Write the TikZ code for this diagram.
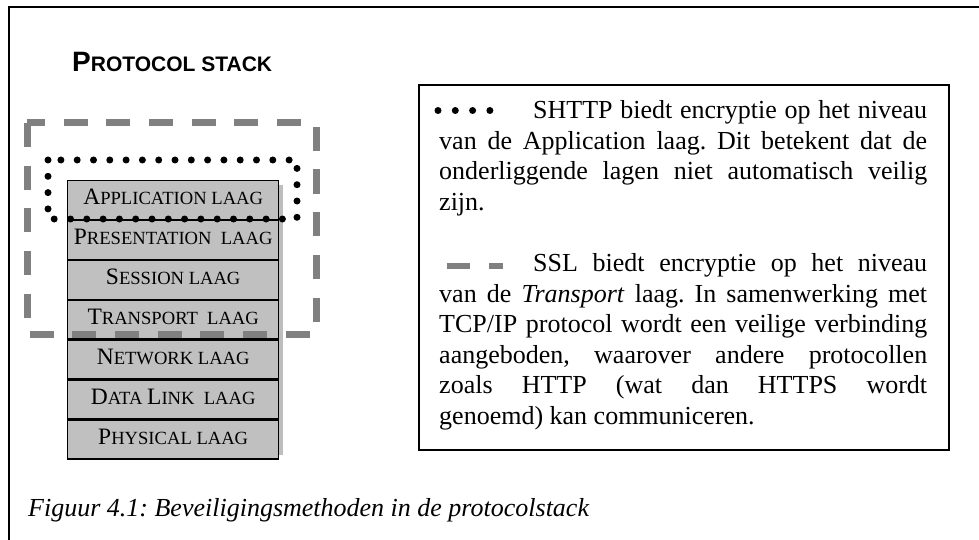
\documentclass[tikz,border=0pt]{standalone}
\usepackage{fontspec}
\setmainfont{Liberation Serif}
\newfontfamily\headfont{Liberation Sans}
\frenchspacing
\definecolor{stackgray}{HTML}{C0C0C0}
\definecolor{shadowgray}{HTML}{BDBDBD}
\definecolor{dashgray}{HTML}{808080}
% fake small capitals: first letter large, the rest in smaller capitals
\newcommand\capbig[1]{{\fontsize{23.5}{26}\selectfont #1}}
\newcommand\capsmall[1]{{\fontsize{18.6}{21}\selectfont #1}}
\begin{document}
\begin{tikzpicture}[x=1pt,y=-1pt,
  layerbox/.style={draw=black, line width=1.4pt, fill=stackgray,
    minimum width=211pt, minimum height=38.571pt, inner sep=0pt,
    text height=16pt, text depth=7pt, anchor=north west},
  dotline/.style={line width=7pt, line cap=round, dash pattern=on 0pt off 16.3pt},
  dashline/.style={line width=7pt, draw=dashgray, dash pattern=on 24pt off 18.7pt},
  smalldots/.style={line width=7pt, line cap=round, dash pattern=on 0pt off 17.3pt},
  smalldash/.style={line width=6pt, draw=dashgray, dash pattern=on 23pt off 19pt},
  bodyline/.style={anchor=base west, inner sep=0pt, font=\fontsize{26}{30}\selectfont},
]
\useasboundingbox (0,0) rectangle (979,540);
\clip (0,0) rectangle (979,540);

% outer frame
\draw[line width=2pt] (9,7) rectangle (1000,560);

% heading
\node[anchor=base west, inner sep=0pt, font=\headfont\bfseries] (title) at (72,72)
  {{\fontsize{28}{30}\selectfont P}{\fontsize{21}{24}\selectfont ROTOCOL STACK}};

% protocol stack with its shadow
\fill[shadowgray] (72,185) rectangle (283,455);
\node[layerbox] (app) at (67,180) {\capbig{A}\capsmall{PPLICATION LAAG}};
\node[layerbox] (pres) at (app.south west) {\capbig{P}\capsmall{RESENTATION\ \ LAAG}};
\node[layerbox] (sess) at (pres.south west) {\capbig{S}\capsmall{ESSION LAAG}};
\node[layerbox] (trans) at (sess.south west) {\capbig{T}\capsmall{RANSPORT\ \ LAAG}};
\node[layerbox] (net) at (trans.south west) {\capbig{N}\capsmall{ETWORK LAAG}};
\node[layerbox] (dlink) at (net.south west) {\capbig{D}\capsmall{ATA }\capbig{L}\capsmall{INK\ \ LAAG}};
\node[layerbox] (phys) at (dlink.south west) {\capbig{P}\capsmall{HYSICAL LAAG}};

% SSL range (dashed) and SHTTP range (dotted)
\draw[dashline] (27,123) rectangle (316,334);
\draw[dotline] (48,160) rectangle (297,219);

% explanation box
\node[draw=black, line width=1.6pt, minimum width=530pt, minimum height=365pt,
  inner sep=0pt, anchor=north west] (textbox) at (418,84) {};

\coordinate (dotsA) at (438,110.5);
\coordinate (dotsB) at (490,110.5);
\draw[smalldots] (dotsA) -- (dotsB);
\node[bodyline] (l1) at (533,118.5) {\makebox[394pt][s]{SHTTP biedt encryptie op het niveau}};
\node[bodyline] (l2) at (439,149.1) {\makebox[488pt][s]{van de Application laag. Dit betekent dat de}};
\node[bodyline] (l3) at (439,179.7) {\makebox[488pt][s]{onderliggende lagen niet automatisch veilig}};
\node[bodyline] (l4) at (439,210.3) {zijn.};

\coordinate (dashA) at (447,265.5);
\coordinate (dashB) at (503,265.5);
\draw[smalldash] (dashA) -- (dashB);
\node[bodyline] (l6) at (533,271.5) {\makebox[394pt][s]{SSL biedt encryptie op het niveau}};
\node[bodyline] (l7) at (439,302.1) {\makebox[488pt][s]{van de \textit{Transport} laag. In samenwerking met}};
\node[bodyline] (l8) at (439,332.7) {\makebox[488pt][s]{TCP/IP protocol wordt een veilige verbinding}};
\node[bodyline] (l9) at (439,363.3) {\makebox[488pt][s]{aangeboden, waarover andere protocollen}};
\node[bodyline] (l10) at (439,393.9) {\makebox[488pt][s]{zoals HTTP (wat dan HTTPS wordt}};
\node[bodyline] (l11) at (439,424.5) {genoemd) kan communiceren.};

% caption
\node[anchor=base west, inner sep=0pt, font=\fontsize{26}{30}\selectfont\itshape] (caption) at (28,516)
  {Figuur 4.1: Beveiligingsmethoden in de protocolstack};
\end{tikzpicture}
\end{document}
